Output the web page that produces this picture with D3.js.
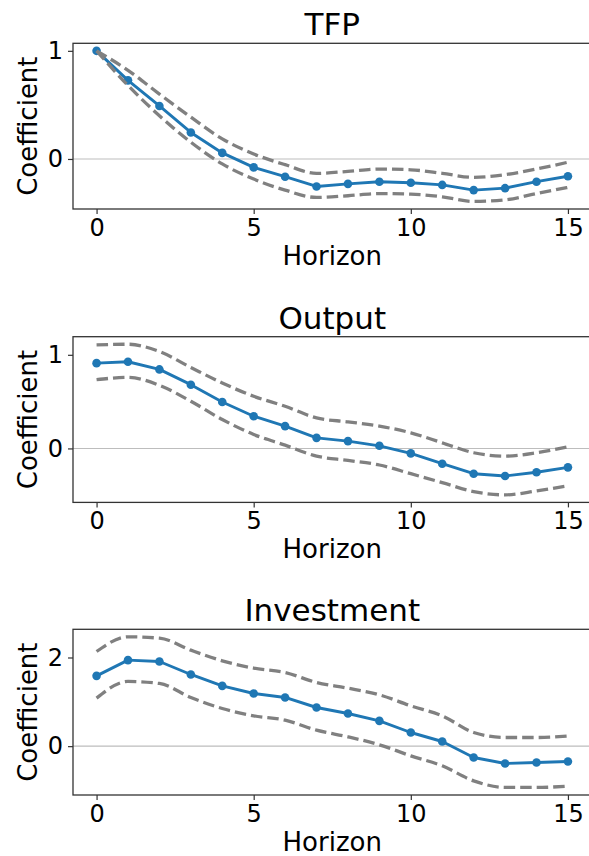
<!DOCTYPE html>
<html>
<head>
<meta charset="utf-8">
<script src="https://cdn.jsdelivr.net/npm/d3@7"></script>
<style>
  html, body { margin: 0; padding: 0; background: #fff; overflow: hidden; }
  svg { display: block; font-family: "DejaVu Sans", sans-serif; }
</style>
</head>
<body>
<svg id="chart" width="589" height="856"></svg>
<script>
const horizons = d3.range(0, 16);
const titles = ["TFP", "Output", "Investment"];
const yTicks = [[0, 1], [0, 1], [0, 2]];
const xTicks = [0, 5, 10, 15];

const tfpCoef  = [1.0, 0.727, 0.49, 0.245, 0.056, -0.078, -0.164, -0.254, -0.23, -0.21, -0.22, -0.24, -0.288, -0.27, -0.21, -0.16];
const tfpUpper = [1.0, 0.82, 0.60, 0.387, 0.186, 0.046, -0.053, -0.133, -0.115, -0.093, -0.10, -0.133, -0.17, -0.145, -0.093, -0.03];
const tfpLower = [1.0, 0.68, 0.40, 0.155, -0.046, -0.186, -0.288, -0.356, -0.34, -0.32, -0.325, -0.35, -0.393, -0.378, -0.32, -0.263];

const outCoef  = [0.911, 0.926, 0.844, 0.681, 0.496, 0.344, 0.238, 0.113, 0.078, 0.028, -0.053, -0.163, -0.27, -0.294, -0.255, -0.202];
const outUpper = [1.106, 1.113, 1.035, 0.865, 0.699, 0.557, 0.45, 0.326, 0.284, 0.238, 0.167, 0.06, -0.046, -0.082, -0.046, 0.018];
const outLower = [0.734, 0.759, 0.674, 0.504, 0.309, 0.149, 0.035, -0.082, -0.128, -0.177, -0.27, -0.365, -0.461, -0.496, -0.454, -0.40];

const invCoef  = [1.586, 1.94, 1.91, 1.617, 1.36, 1.188, 1.098, 0.872, 0.737, 0.571, 0.308, 0.105, -0.256, -0.391, -0.368, -0.346];
const invUpper = [2.135, 2.466, 2.436, 2.165, 1.925, 1.76, 1.662, 1.436, 1.308, 1.158, 0.91, 0.684, 0.308, 0.195, 0.195, 0.226];
const invLower = [1.083, 1.459, 1.414, 1.098, 0.85, 0.684, 0.586, 0.361, 0.211, 0.03, -0.218, -0.444, -0.782, -0.932, -0.932, -0.902];

const coefs = [tfpCoef, outCoef, invCoef];
const uppers = [tfpUpper, outUpper, invUpper];
const lowers = [tfpLower, outLower, invLower];

const svg = d3.select("#chart");
const left = 73, right = 591.5;
const tops = [43.3, 336.7, 629.3];
const panelH = 165.7;

const x = d3.scaleLinear().domain([-0.75, 15.75]).range([left, right]);

titles.forEach((title, i) => {
  const top = tops[i], bottom = top + panelH;
  const all = coefs[i].concat(uppers[i], lowers[i]);
  const [mn, mx] = d3.extent(all);
  const pad = (mx - mn) * 0.05;
  const y = d3.scaleLinear().domain([mn - pad, mx + pad]).range([bottom, top]);

  const g = svg.append("g");

  // zero line
  g.append("line")
    .attr("x1", left).attr("x2", right)
    .attr("y1", y(0)).attr("y2", y(0))
    .attr("stroke", "#bdbdbd").attr("stroke-width", 1.1);

  const smooth = d3.line().x((d, k) => x(horizons[k])).y(d => y(d)).curve(d3.curveMonotoneX);
  const straight = d3.line().x((d, k) => x(horizons[k])).y(d => y(d));

  // coefficient line
  g.append("path").datum(coefs[i])
    .attr("d", straight)
    .attr("fill", "none").attr("stroke", "#1f77b4").attr("stroke-width", 2.9)
    .attr("stroke-linejoin", "round");
  g.selectAll("circle.pt").data(coefs[i]).enter().append("circle")
    .attr("cx", (d, k) => x(horizons[k])).attr("cy", d => y(d))
    .attr("r", 4.3).attr("fill", "#1f77b4");

  // bands
  [uppers[i], lowers[i]].forEach(arr => {
    g.append("path").datum(arr)
      .attr("d", smooth)
      .attr("fill", "none").attr("stroke", "#808080").attr("stroke-width", 3.3)
      .attr("stroke-dasharray", "11.5,5");
  });

  // frame
  g.append("rect")
    .attr("x", left).attr("y", top)
    .attr("width", right - left).attr("height", panelH)
    .attr("fill", "none").attr("stroke", "#333").attr("stroke-width", 1.3);

  // x axis
  const xa = g.append("g").attr("transform", `translate(0,${bottom})`)
    .call(d3.axisBottom(x).tickValues(xTicks).tickSize(5).tickPadding(5).tickFormat(d3.format("d")));
  xa.select(".domain").remove();
  xa.selectAll("line").attr("stroke", "#333").attr("stroke-width", 1.2);
  xa.selectAll("text").attr("font-size", 24).attr("fill", "#000").attr("font-family", "DejaVu Sans");

  // y axis
  const ya = g.append("g").attr("transform", `translate(${left},0)`)
    .call(d3.axisLeft(y).tickValues(yTicks[i]).tickSize(5).tickPadding(5).tickFormat(d3.format("d")));
  ya.select(".domain").remove();
  ya.selectAll("line").attr("stroke", "#333").attr("stroke-width", 1.2);
  ya.selectAll("text").attr("font-size", 24).attr("fill", "#000").attr("font-family", "DejaVu Sans");

  // title
  g.append("text")
    .attr("x", (left + right) / 2).attr("y", top - 8)
    .attr("text-anchor", "middle").attr("font-size", 31).attr("fill", "#000")
    .text(title);

  // x label
  g.append("text")
    .attr("x", (left + right) / 2).attr("y", bottom + 56)
    .attr("text-anchor", "middle").attr("font-size", 26).attr("fill", "#000")
    .text("Horizon");

  // y label
  g.append("text")
    .attr("transform", `translate(37,${(top + bottom) / 2}) rotate(-90)`)
    .attr("text-anchor", "middle").attr("font-size", 26).attr("fill", "#000")
    .text("Coefficient");
});
</script>
</body>
</html>
